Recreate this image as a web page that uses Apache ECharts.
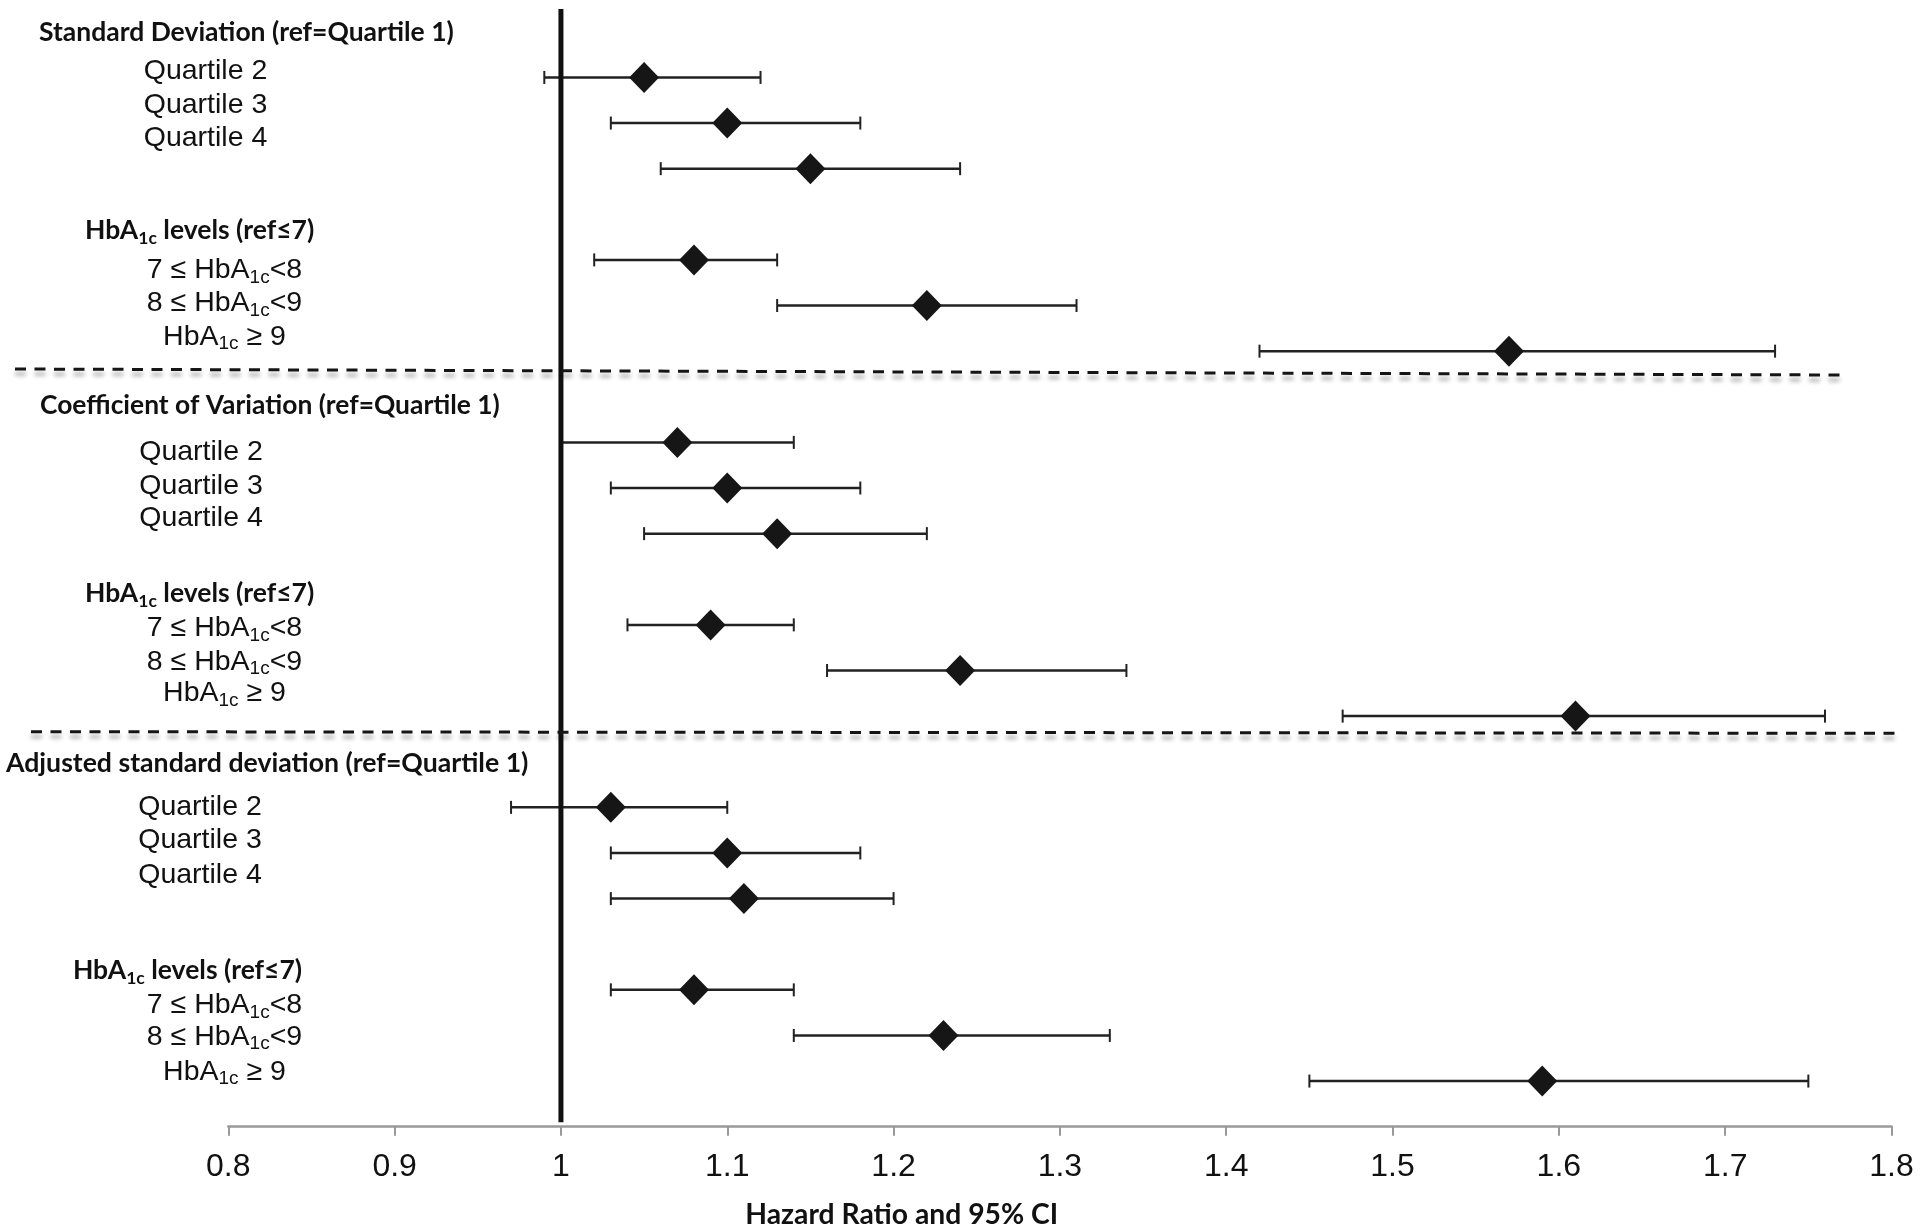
<!DOCTYPE html>
<html>
<head>
<meta charset="utf-8">
<script src="https://cdn.jsdelivr.net/npm/echarts@6/dist/echarts.min.js"></script>
<style>
html,body{margin:0;padding:0;background:#ffffff;}
#chart{width:1920px;height:1231px;}
</style>
</head>
<body>
<div id="chart"></div>
<script>
// ---------------- DATA ----------------
const rowNames = [
  'SD Quartile 2','SD Quartile 3','SD Quartile 4',
  'SD 7≤HbA1c<8','SD 8≤HbA1c<9','SD HbA1c≥9',
  'CV Quartile 2','CV Quartile 3','CV Quartile 4',
  'CV 7≤HbA1c<8','CV 8≤HbA1c<9','CV HbA1c≥9',
  'ASD Quartile 2','ASD Quartile 3','ASD Quartile 4',
  'ASD 7≤HbA1c<8','ASD 8≤HbA1c<9','ASD HbA1c≥9'
];
const rowIndex = [0,1,2,4,5,6,8,9,10,12,13,14,16,17,18,20,21,22];
const hazardRatio = [1.05,1.10,1.15,1.08,1.22,1.57, 1.07,1.10,1.13,1.09,1.24,1.61, 1.03,1.10,1.11,1.08,1.23,1.59];
const ciLower     = [0.99,1.03,1.06,1.02,1.13,1.42, 1.00,1.03,1.05,1.04,1.16,1.47, 0.97,1.03,1.03,1.03,1.14,1.45];
const ciUpper     = [1.12,1.18,1.24,1.13,1.31,1.73, 1.14,1.18,1.22,1.14,1.34,1.76, 1.10,1.18,1.20,1.14,1.33,1.75];
const xTickValues = [0.8,0.9,1,1.1,1.2,1.3,1.4,1.5,1.6,1.7,1.8];
const referenceHR = 1;
const sectionTitles = [
  'Standard Deviation (ref=Quartile 1)',
  'Coefficient of Variation (ref=Quartile 1)',
  'Adjusted standard deviation (ref=Quartile 1)'
];
const quartileLabels = ['Quartile 2','Quartile 3','Quartile 4'];
const hbaTitle = '{b|HbA}{bs|1c}{b| levels (ref≤7)}';
const hbaLabels = ['{a|7 ≤ HbA}{s|1c}{a|<8}','{a|8 ≤ HbA}{s|1c}{a|<9}','{a|HbA}{s|1c}{a| ≥ 9}'];
const xAxisTitle = 'Hazard Ratio and 95% CI';

// ---------------- LAYOUT ----------------
const BOLD = 'Lato';
const REG = 'Liberation Sans';
const measureCtx = document.createElement('canvas').getContext('2d');
function fitSize(text, family, weight, target){
  measureCtx.font = weight + ' 100px ' + family;
  return 100 * target / measureCtx.measureText(text).width;
}
const sections = [
  {title:{x:39,y:32.3,w:415}, q:{cx:205.5,ys:[70.7,105,137.7]}, h:{cx:199.6,y:230}, v:{cx:224.5,ys:[270,303.3,336.7]}},
  {title:{x:40,y:405,w:460}, q:{cx:201,ys:[451.7,486,518.3]}, h:{cx:199.6,y:593.3}, v:{cx:224.5,ys:[628.3,661.7,693.3]}},
  {title:{x:6,y:763.3,w:522.6}, q:{cx:200,ys:[806.7,840,875]}, h:{cx:187.5,y:970}, v:{cx:224.5,ys:[1005,1036.7,1071.7]}}
];
const richReg = {
  a:{fontFamily:REG,fontSize:28.5,color:'#111',lineHeight:34},
  s:{fontFamily:REG,fontSize:19,color:'#111',lineHeight:14,verticalAlign:'bottom'}
};
const richBold = {
  b:{fontFamily:BOLD,fontWeight:'bold',fontSize:26.5,color:'#111',lineHeight:34},
  bs:{fontFamily:BOLD,fontWeight:'bold',fontSize:17.5,color:'#111',lineHeight:16,verticalAlign:'bottom'}
};

const graphics = [];
sections.forEach((s, si) => {
  graphics.push({type:'text', x:s.title.x, y:s.title.y, style:{
    text: sectionTitles[si], fontFamily:BOLD, fontWeight:'bold',
    fontSize: fitSize(sectionTitles[si], BOLD, 'bold', s.title.w),
    fill:'#111', align:'left', verticalAlign:'middle', textAlign:'left', textVerticalAlign:'middle'}});
  quartileLabels.forEach((t, i) => {
    graphics.push({type:'text', x:s.q.cx, y:s.q.ys[i], style:{
      text:t, fontFamily:REG, fontSize:28.5, fill:'#111',
      align:'center', verticalAlign:'middle', textAlign:'center', textVerticalAlign:'middle'}});
  });
  graphics.push({type:'text', x:s.h.cx, y:s.h.y, style:{
    text:hbaTitle, rich:richBold, fill:'#111',
    align:'center', verticalAlign:'middle', textAlign:'center', textVerticalAlign:'middle'}});
  hbaLabels.forEach((t, i) => {
    graphics.push({type:'text', x:s.v.cx, y:s.v.ys[i], style:{
      text:t, rich:richReg, fill:'#111',
      align:'center', verticalAlign:'middle', textAlign:'center', textVerticalAlign:'middle'}});
  });
});
// section separators
const sepStyle = {stroke:'#151515', lineWidth:3, lineDash:[11,8.5], shadowBlur:4, shadowColor:'rgba(0,0,0,0.35)', shadowOffsetY:5};
graphics.push({type:'line', shape:{x1:15,y1:369,x2:1843,y2:375}, style:sepStyle, z:5});
graphics.push({type:'line', shape:{x1:31,y1:731.7,x2:1899,y2:733.3}, style:sepStyle, z:5});
// axis title
graphics.push({type:'text', x:901.7, y:1215, style:{
  text:xAxisTitle, fontFamily:BOLD, fontWeight:'bold',
  fontSize: fitSize(xAxisTitle, BOLD, 'bold', 313), fill:'#111',
  align:'center', verticalAlign:'middle', textAlign:'center', textVerticalAlign:'middle'}});

// ---------------- CHART ----------------
const chart = echarts.init(document.getElementById('chart'), null, {renderer:'canvas'});
const errData = rowIndex.map((r, i) => [ciLower[i], ciUpper[i], r, rowNames[i]]);
const pointData = rowIndex.map((r, i) => [hazardRatio[i], r, rowNames[i]]);

chart.setOption({
  animation:false,
  backgroundColor:'#ffffff',
  grid:{left:228.3, right:28.5, top:9, bottom:104.3, containLabel:false, outerBoundsMode:'none'},
  xAxis:{
    type:'value', min:xTickValues[0], max:xTickValues[xTickValues.length-1], interval:0.1,
    axisLine:{show:true, onZero:false, lineStyle:{color:'#999999', width:2.5}},
    axisTick:{show:true, length:9, lineStyle:{color:'#999999', width:2}},
    axisLabel:{fontFamily:REG, fontSize:32, color:'#111', margin:24,
      formatter: v => String(Math.round(v*10)/10)},
    splitLine:{show:false}
  },
  yAxis:{
    type:'value', min:-1.5, max:23, inverse:true, show:false,
    splitLine:{show:false}
  },
  graphic: graphics,
  series:[
    {
      type:'custom', name:'95% CI', data:errData,
      encode:{x:[0,1], y:2},
      z:2,
      renderItem:function(params, api){
        const y = api.value(2);
        const p1 = api.coord([api.value(0), y]);
        const p2 = api.coord([api.value(1), y]);
        const h = 6.5;
        const st = {stroke:'#222', lineWidth:2.5};
        return {type:'group', children:[
          {type:'line', shape:{x1:p1[0], y1:p1[1], x2:p2[0], y2:p2[1]}, style:st},
          {type:'line', shape:{x1:p1[0], y1:p1[1]-h, x2:p1[0], y2:p1[1]+h}, style:{stroke:'#222', lineWidth:2}},
          {type:'line', shape:{x1:p2[0], y1:p2[1]-h, x2:p2[0], y2:p2[1]+h}, style:{stroke:'#222', lineWidth:2}}
        ]};
      }
    },
    {
      type:'scatter', name:'Hazard Ratio', data:pointData,
      symbol:'diamond', symbolSize:[30,31], z:3,
      itemStyle:{color:'#161616', opacity:1},
      emphasis:{disabled:true}
    },
    {
      type:'line', name:'Reference', data:[[referenceHR,-1.5],[referenceHR,22.9]],
      symbol:'none', z:4,
      lineStyle:{color:'#111', width:5},
      emphasis:{disabled:true}
    }
  ]
});
</script>
</body>
</html>
